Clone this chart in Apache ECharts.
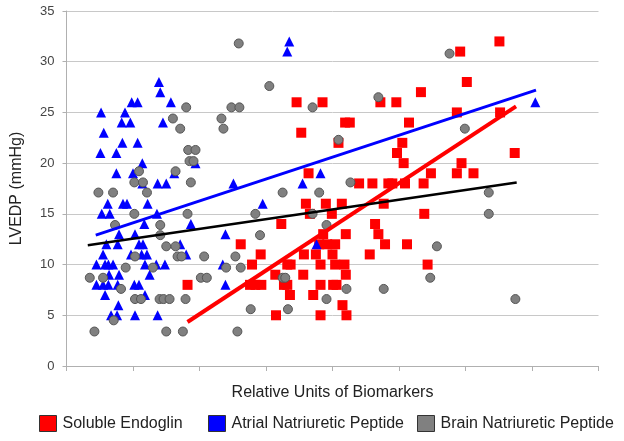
<!DOCTYPE html>
<html>
<head>
<meta charset="utf-8">
<script src="https://cdn.jsdelivr.net/npm/echarts@6/dist/echarts.min.js"></script>
<style>html,body{margin:0;padding:0;background:#fff}#c{width:624px;height:441px}</style>
</head>
<body>
<div id="c"></div>
<script>
// Soluble Endoglin (red squares)
var seX = [1.82,3.46,3.85,3.53,3.64,3.60,3.90,3.66,3.23,3.86,2.62,3.80,3.92,4.04,2.92,3.57,3.75,2.79,3.32,3.37,3.82,3.14,3.56,2.76,2.84,2.93,3.27,3.32,3.82,3.36,3.71,3.15,3.82,
           5.33,4.72,4.96,4.19,4.26,5.15,4.09,5.05,4.97,5.07,5.48,4.40,4.60,4.84,4.90,5.09,5.37,4.14,4.77,3.99,5.38,4.64,4.20,4.69,4.79,5.12,4.00,4.56,4.04,4.18,5.43,4.20,4.01,4.06,4.15,4.21,
           6.51,5.92,6.02,5.87,6.52,6.74,5.94,5.87,6.12];
var seY = [8,26,26,23,19,16,16,15,14,13,12,12,12,12,11,11,11,10,10,10,10,9,9,8,8,8,8,8,8,7,7,5,5,
           27,26,26,24,24,24,22,22,21,20,19,18,18,18,18,18,18,16,16,15,15,14,13,13,12,12,11,11,10,10,10,9,8,8,6,5,
           32,31,28,25,25,21,20,19,19];
// Atrial Natriuretic Peptide (blue triangles)
var anpX = [1.39,1.41,0.98,1.07,1.57,0.52,0.88,0.83,0.96,1.45,0.56,0.84,1.07,0.51,0.75,1.14,1.94,0.75,1.00,1.62,1.14,1.37,1.50,
            0.62,0.85,0.91,1.22,0.53,0.65,1.36,1.17,1.87,0.79,1.03,0.60,0.77,1.09,1.15,1.71,0.55,0.97,1.13,1.21,1.80,
            0.45,0.58,0.63,0.70,1.18,1.35,1.48,0.64,0.79,1.25,0.45,0.55,0.63,0.77,1.02,1.09,0.58,1.18,0.78,0.67,0.76,1.03,1.37,
            3.35,3.32,2.51,3.55,3.82,2.95,2.39,2.35,2.39,3.76,7.05];
var anpY = [28,27,26,26,26,25,25,24,24,24,23,22,22,21,21,20,20,19,19,19,18,18,18,
            16,16,16,16,15,15,15,14,14,13,13,12,12,12,12,12,11,11,11,11,11,
            10,10,10,10,10,10,10,9,9,9,8,8,8,8,8,8,7,7,6,5,5,5,5,
            32,31,18,18,19,16,13,10,8,12,26];
// Brain Natriuretic Peptide (gray circles)
var bnpX = [0.48,0.70,1.21,1.02,1.15,1.87,1.09,1.64,1.85,1.91,1.83,1.94,1.71,1.60,1.80,1.02,1.82,0.73,1.41,1.41,1.50,1.64,1.03,1.67,1.73,2.07,
            0.89,1.30,0.35,0.55,2.02,2.11,0.82,1.03,1.12,1.40,1.46,1.55,1.79,0.71,0.42,1.50,1.75,
            2.59,3.05,2.48,2.60,3.70,2.33,2.36,3.25,3.80,2.84,3.70,3.91,2.91,2.54,2.40,2.62,3.25,3.29,3.91,2.77,3.33,2.57,
            5.76,4.69,4.09,4.27,5.57,5.47,4.21,4.77,5.99,6.35,6.35,6.75];
var bnpY = [17.1,17.1,17.1,18.1,18.1,18.1,19.2,19.2,20.2,20.2,21.3,21.3,23.4,24.4,25.5,15.0,15.0,13.9,13.9,12.9,11.8,11.8,10.8,10.8,10.8,10.8,
            9.7,9.7,8.7,8.7,8.7,8.7,7.6,6.6,6.6,6.6,6.6,6.6,6.6,4.5,3.4,3.4,3.4,
            31.8,27.6,25.5,25.5,25.5,24.4,23.4,17.1,17.1,15.0,15.0,13.9,12.9,10.8,9.7,9.7,8.7,8.7,6.6,5.6,5.6,3.4,
            30.8,26.5,22.3,18.1,11.8,8.7,7.6,7.6,23.4,17.1,15.0,6.6];
// Trend lines (start / end)
var seTrendX = [1.82, 6.76], seTrendY = [4.34, 25.6];
var anpTrendX = [0.44, 7.06], anpTrendY = [12.9, 27.2];
var bnpTrendX = [0.32, 6.77], bnpTrendY = [11.9, 18.1];
var yTicks = [0,5,10,15,20,25,30,35];

function zip(a,b){return a.map(function(v,i){return [v,b[i]];});}
var FONT = '"Liberation Sans", Arial, sans-serif';
var chart = echarts.init(document.getElementById('c'), null, {renderer:'canvas'});
function leg(name, left){
  return {data:[name], left:left, top:415, padding:0, itemWidth:17, itemHeight:16, itemGap:6,
    icon:'rect', textStyle:{fontSize:16, color:'#222', fontFamily:FONT, padding:[0,0,0,1]},
    itemStyle:{borderColor:'#333', borderWidth:1}, selectedMode:false};
}
chart.setOption({
  animation:false,
  grid:{left:66.5, right:25.5, top:11, bottom:75},
  legend:[leg('Soluble Endoglin',39), leg('Atrial Natriuretic Peptide',208), leg('Brain Natriuretic Peptide',417)],
  xAxis:{type:'value', min:0, max:8, interval:1,
    name:'Relative Units of Biomarkers', nameLocation:'middle', nameGap:19,
    nameTextStyle:{fontSize:16, color:'#222', fontFamily:FONT},
    axisLine:{show:true, lineStyle:{color:'#b0b0b0'}},
    axisTick:{show:true, length:5, lineStyle:{color:'#b0b0b0'}},
    axisLabel:{show:false}, splitLine:{show:false}},
  yAxis:{type:'value', min:yTicks[0], max:yTicks[yTicks.length-1], interval:5,
    name:'LVEDP (mmHg)', nameLocation:'middle', nameGap:42,
    nameTextStyle:{fontSize:16, color:'#222', fontFamily:FONT},
    axisLine:{show:true, lineStyle:{color:'#b0b0b0'}},
    axisTick:{show:true, length:4, lineStyle:{color:'#b0b0b0'}},
    axisLabel:{fontSize:13, color:'#444', margin:12, fontFamily:FONT},
    splitLine:{show:true, lineStyle:{color:'#c8c8c8'}}},
  series:[
    {name:'Soluble Endoglin', type:'scatter', symbol:'rect', symbolSize:10, z:2,
      itemStyle:{color:'#ff0000', opacity:1}, data:zip(seX,seY)},
    {name:'Atrial Natriuretic Peptide', type:'scatter', symbol:'triangle', symbolSize:10, z:3,
      itemStyle:{color:'#0000ff', opacity:1}, data:zip(anpX,anpY)},
    {name:'Brain Natriuretic Peptide', type:'scatter', symbol:'circle', symbolSize:9, z:4,
      itemStyle:{color:'#808080', borderColor:'#555', borderWidth:1, opacity:1}, data:zip(bnpX,bnpY)},
    {name:'seTrend', type:'line', symbol:'none', z:6, lineStyle:{color:'#ff0000', width:4}, data:zip(seTrendX,seTrendY)},
    {name:'anpTrend', type:'line', symbol:'none', z:6, lineStyle:{color:'#0000ff', width:3}, data:zip(anpTrendX,anpTrendY)},
    {name:'bnpTrend', type:'line', symbol:'none', z:6, lineStyle:{color:'#000000', width:2.5}, data:zip(bnpTrendX,bnpTrendY)}
  ]
});
</script>
</body>
</html>
